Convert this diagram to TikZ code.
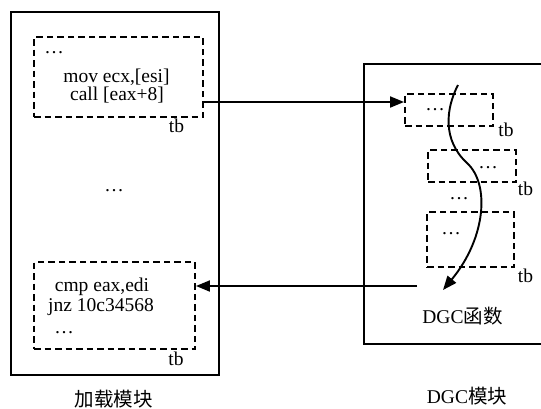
\documentclass[tikz,border=0pt]{standalone}
\usepackage{fontspec}
\setmainfont{Liberation Serif}
\newfontfamily\cjk{Noto Sans CJK SC}
\usetikzlibrary{arrows.meta}
\begin{document}
\begin{tikzpicture}[x=1pt,y=-1pt,
  font=\fontsize{19.5}{21}\selectfont,
  outer/.style={draw,line width=2pt},
  dbox/.style={draw,dashed,dash pattern=on 6.5pt off 4pt,line width=1.9pt,inner sep=0pt},
  txt/.style={inner sep=0pt,anchor=base},
  arr/.style={line width=1.9pt,-{Triangle[length=14pt,width=11pt]}}]
\useasboundingbox (0,0) rectangle (541,408);
% outer boxes
\draw[outer] (11,12) rectangle (219,375);
\draw[outer] (542,64) -- (364,64) -- (364,344) -- (542,344);
% left module
\node[dbox,minimum width=169pt,minimum height=80pt] (ub) at (118.5,77) {};
\node[dbox,minimum width=161pt,minimum height=87pt] (lb) at (114.5,305.5) {};
\node[txt] (u0) at (54,53) {…};
\node[txt] (u1) at (116.5,82) {mov ecx,[esi]};
\node[txt] (u2) at (117,100) {call [eax+8]};
\node[txt] (utb) at (176.5,132) {tb};
\node[txt] (mdots) at (114,191) {…};
\node[txt] (l1) at (102,291.5) {cmp eax,edi};
\node[txt] (l2) at (101,311.5) {jnz 10c34568};
\node[txt] (l3) at (64,333) {…};
\node[txt] (ltb) at (176,365) {tb};
\node[inner sep=0pt] (lname) at (113.5,399) {\cjk 加载模块};
% right module
\node[dbox,minimum width=88pt,minimum height=32pt] (s1) at (449,110) {};
\node[dbox,minimum width=88pt,minimum height=32pt] (s2) at (472,166) {};
\node[dbox,minimum width=87pt,minimum height=55pt] (s3) at (470.5,239.5) {};
\node[txt] (s1d) at (435,110) {…};
\node[txt] (s1tb) at (506,136) {tb};
\node[txt] (s2d) at (488,168) {…};
\node[txt] (s2tb) at (525.5,195) {tb};
\node[txt] (rdots) at (459,199) {…};
\node[txt] (s3d) at (451,234) {…};
\node[txt] (s3tb) at (525.5,282) {tb};
\node[txt] (dgcf) at (462.5,323) {DGC{\cjk 函数}};
\node[txt] (dgcm) at (467,403) {DGC{\cjk 模块}};
% connectors
\coordinate (a1) at (ub.east |- 0,102);
\coordinate (a2) at (s1.west |- 0,102);
\draw[arr] (a1) -- (a2);
\coordinate (b1) at (417,286);
\coordinate (b2) at (lb.east |- b1);
\draw[arr] (b1) -- (b2);
\coordinate (c0) at (458,85);
\coordinate (c1) at (467,163);
\coordinate (c2) at (443,290);
\draw[arr] (c0) .. controls (446,108) and (442,140) .. (c1)
  .. controls (490,184) and (486,238) .. (c2);
\end{tikzpicture}
\end{document}
